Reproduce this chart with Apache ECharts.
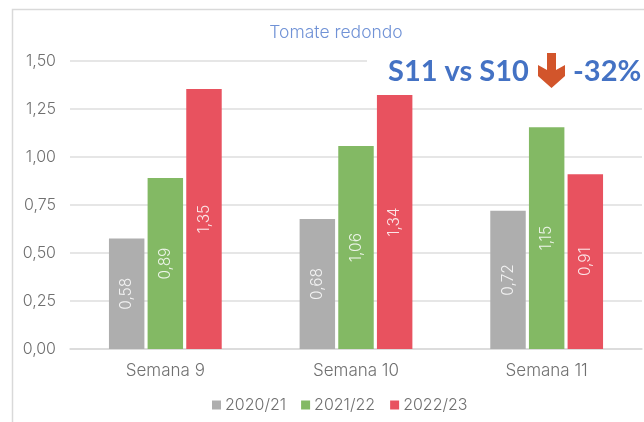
<!DOCTYPE html>
<html><head><meta charset="utf-8">
<style>html,body{margin:0;padding:0;background:#fff}#c{width:644px;height:422px}</style>
<script src="https://cdn.jsdelivr.net/npm/echarts@6/dist/echarts.min.js"></script></head>
<body><div id="c"></div>
<script>
const categories = ['Semana 9','Semana 10','Semana 11'];
const seriesNames = ['2020/21','2021/22','2022/23'];
const values2021 = [0.575,0.677,0.72];
const values2122 = [0.89,1.057,1.155];
const values2223 = [1.354,1.323,0.91];
const labels2021 = ['0,58','0,68','0,72'];
const labels2122 = ['0,89','1,06','1,15'];
const labels2223 = ['1,35','1,34','0,91'];
const colors = ['#aeaeae','#83b964','#e8525f'];
const FONT = 'Inter';
const chart = echarts.init(document.getElementById('c'),null,{renderer:'canvas'});
function mk(name,vals,labs,col){return {name,type:'bar',data:vals,barWidth:'18.6%',barGap:'9%',
  itemStyle:{color:col},
  label:{show:true,position:'inside',rotate:90,color:'#fff',opacity:0.85,fontFamily:FONT,fontWeight:300,fontSize:15.5,
    formatter:p=>labs[p.dataIndex]}};}
chart.setOption({
  animation:false,
  title:{text:'Tomate redondo',left:331,top:19,textAlign:'center',textStyle:{color:'#7092d6',fontFamily:FONT,fontSize:17.5,fontWeight:300}},
  grid:{left:70,right:2,top:61,bottom:73},
  legend:{top:392,left:207,itemWidth:9,itemHeight:9,itemGap:15,icon:'rect',data:seriesNames,
    textStyle:{color:'#707070',fontFamily:FONT,fontWeight:300,fontSize:16,padding:[0,0,0,-1]}},
  xAxis:{type:'category',data:categories,axisTick:{show:false},
    axisLine:{lineStyle:{color:'#d9d9d9',width:1.5}},
    axisLabel:{color:'#707070',fontFamily:FONT,fontWeight:300,fontSize:17,margin:13}},
  yAxis:{type:'value',min:0,max:1.5,interval:0.25,axisLine:{show:false},axisTick:{show:false},
    splitLine:{lineStyle:{color:'#dedede',width:1.5}},
    axisLabel:{color:'#707070',fontFamily:FONT,fontWeight:300,fontSize:16,margin:14,formatter:v=>v.toFixed(2).replace('.',',')}},
  series:[mk(seriesNames[0],values2021,labels2021,colors[0]),mk(seriesNames[1],values2122,labels2122,colors[1]),mk(seriesNames[2],values2223,labels2223,colors[2])],
  graphic:[
    {type:'polyline',z:0,silent:true,shape:{points:[[12.5,422],[12.5,9.5],[644,9.5]]},style:{stroke:'#d9d9d9',lineWidth:1.5,fill:null}},
    {type:'rect',z:5,silent:true,shape:{x:367,y:50,width:277,height:40},style:{fill:'#fff'}},
    {type:'text',z:6,x:388,y:57,style:{text:'S11 vs S10',fill:'#4472c4',font:'bold 29px Lato'}},
    {type:'polygon',z:6,shape:{points:[[547,53],[556,53],[556,70],[565,65],[565,76],[551.5,88],[538,76],[538,65],[547,70]]},style:{fill:'#d2552b'}},
    {type:'text',z:6,x:573,y:57,style:{text:'-32%',fill:'#4472c4',font:'bold 29px Lato'}}
  ]
});
</script></body></html>
